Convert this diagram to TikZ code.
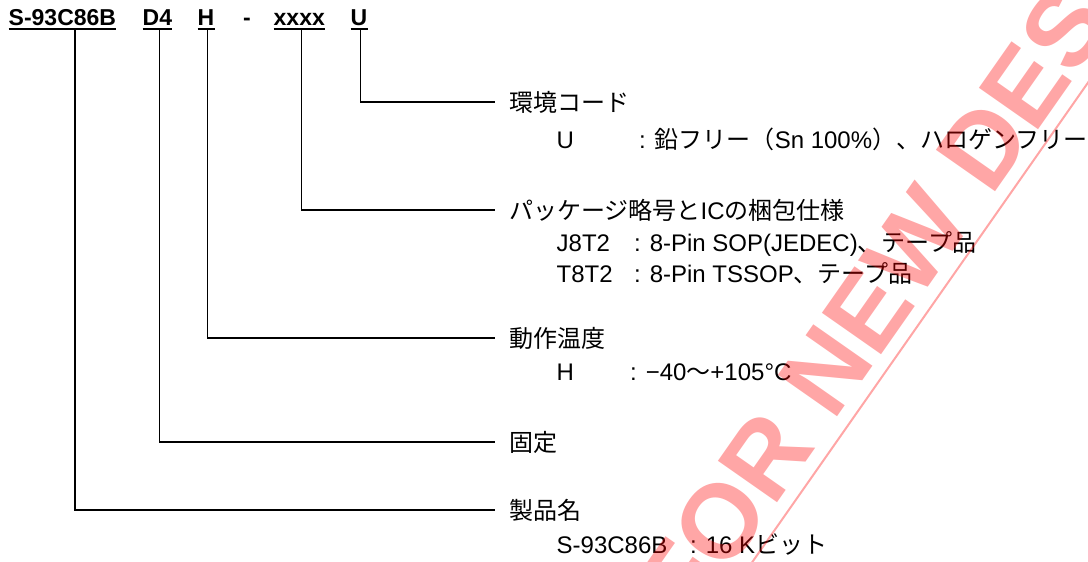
\documentclass[tikz,border=0pt]{standalone}
\usepackage{fontspec}
\setmainfont{Liberation Sans}
\newfontfamily\jp{Noto Sans CJK JP}
\newfontfamily\wmfont{Liberation Sans Bold}
\usetikzlibrary{calc}
\begin{document}
\begin{tikzpicture}[x=1pt,y=-1pt,
  part/.style={inner sep=0pt, text depth=3.5pt, anchor=base west, font=\fontsize{23}{27}\selectfont\bfseries},
  ul/.style={line width=2pt},
  lead/.style={line width=1.7pt},
  head/.style={anchor=west, inner xsep=14pt, inner ysep=0pt, font=\fontsize{24}{28}\selectfont\jp},
  key/.style={anchor=base west, inner sep=0pt, font=\fontsize{24}{28}\selectfont},
  wm/.style={font=\fontsize{105}{110}\selectfont\wmfont, text=red, text opacity=0.35, inner sep=0pt, text depth=13pt, rotate=55},
  wmline/.style={draw=red, draw opacity=0.35, line width=2pt}
]
\useasboundingbox (0,0) rectangle (1088,562);

% part number
\node[part] (p1) at (8.5,25) {S-93C86B};
\node[part] (p2) at (142.5,25) {D4};
\node[part] (p3) at (197.5,25) {H};
\node[part] (p4) at (243,25) {-};
\node[part] (p5) at (273.5,25) {xxxx};
\node[part] (p6) at (350.5,25) {U};
\foreach \p in {p1,p2,p3,p5,p6}
  \draw[ul] (\p.south west) -- (\p.south east);

% headings
\node[head] (hU) at (495,102) {環境コード};
\node[head] (hX) at (495,210) {パッケージ略号と{\rmfamily IC}の梱包仕様};
\node[head] (hH) at (495,338) {動作温度};
\node[head] (hD) at (495,442) {固定};
\node[head] (hS) at (495,510) {製品名};

% leaders
\draw[lead] ($(p6.south west)+(10,0.5)$) |- (hU.west);
\draw[lead] ($(p5.south west)+(28,0.5)$) |- (hX.west);
\draw[lead] ($(p3.south west)+(10,0.5)$) |- (hH.west);
\draw[lead] ($(p2.south west)+(17,0.5)$) |- (hD.west);
\draw[lead] ($(p1.south west)+(66.5,0.5)$) |- (hS.west);

% detail lines
\node[key] (kU) at (556.5,148) {U};
\node[key] (vU) at (639,148) {: {\jp 鉛フリー（}Sn 100\%{\jp ）、ハロゲンフリー}};
\node[key] (kJ) at (556.5,251) {J8T2};
\node[key] (vJ) at (634,251) {: 8-Pin SOP(JEDEC){\jp 、テープ品}};
\node[key] (kT) at (556.5,282) {T8T2};
\node[key] (vT) at (634,282) {: 8-Pin TSSOP{\jp 、テープ品}};
\node[key] (kH) at (556.5,380) {H};
\node[key] (vH) at (630,380) {: −40{\jp ～}+105°C};
\node[key] (kS) at (556.5,553) {S-93C86B};
\node[key] (vS) at (690,553) {: 16 K{\jp ビット}};

% watermark
\begin{scope}
  \clip (0,0) rectangle (1088,562);
  \node[wm, anchor=base west] (wmB) at (690,628) {FOR NEW DESIGN};
  \node[wm, anchor=base east] (wmA) at (wmB.base west) {NOT RECOMMENDED\ };
  \draw[wmline] (wmA.south west) -- (wmB.south east);
\end{scope}
\end{tikzpicture}
\end{document}
